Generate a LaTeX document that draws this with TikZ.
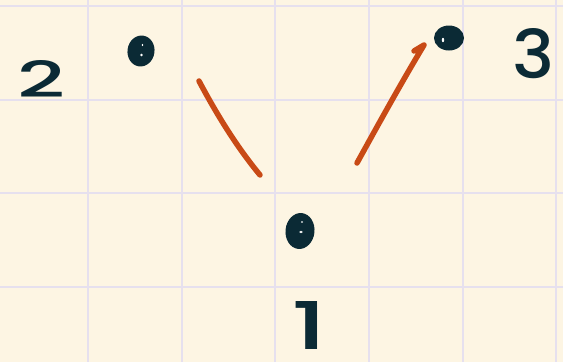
\documentclass[tikz,border=0pt]{standalone}
\usepackage{fontspec}
\usepackage{graphicx}
\newfontfamily\handfont{Poppins}[UprightFont=* Medium]
\usetikzlibrary{shapes.geometric}
\definecolor{paper}{HTML}{FDF5E3}
\definecolor{gridc}{HTML}{E6E0EE}
\definecolor{ink}{HTML}{0B2A35}
\definecolor{rust}{HTML}{C84A16}
\tikzset{
  gridline/.style={draw=gridc, line width=2pt},
  inkdot/.style={ellipse, fill=ink, draw=none, inner sep=0pt},
  shine/.style={fill=white, draw=none},
  lbl/.style={text=ink, inner sep=0pt, font=\handfont},
  stroke/.style={draw=rust, line width=5.5pt, line cap=round, line join=round}
}
\begin{document}
\begin{tikzpicture}[x=1pt,y=-1pt]
\fill[paper] (0,0) rectangle (563,362);
\useasboundingbox (0,0) rectangle (563,362);
% grid
\foreach \gx in {88.2,181.8,275.4,369,462.6,556.2}{
  \draw[gridline] (\gx,0) -- (\gx,362);
}
\foreach \gy in {6,99.6,193.2,286.8}{
  \draw[gridline] (0,\gy) -- (563,\gy);
}
% dots
\node[inkdot, minimum width=27pt, minimum height=31pt, rotate=-8] (p2) at (141,51) {};
\node[inkdot, minimum width=30pt, minimum height=25pt] (p3) at (449,38) {};
\node[inkdot, minimum width=29pt, minimum height=36pt, rotate=-6] (p1) at (300,231) {};
% highlights
\fill[shine] (141.5,55) circle (1.3pt);
\fill[shine] (142.5,45) ellipse (0.8pt and 1.2pt);
\fill[shine] (443,40) ellipse (1.2pt and 2.2pt);
\fill[shine] (301,232) ellipse (1.8pt and 1.2pt);
\fill[shine] (302,222) ellipse (1.2pt and 0.8pt);
% labels
\node[lbl] (l2) at (42,79) {\resizebox{48pt}{37pt}{2}};
\node[lbl] (l3) at (534,54) {\resizebox{42pt}{50pt}{3}};
\node[lbl] (l1) at (309,325) {\resizebox{36pt}{48pt}{1}};
% strokes
\coordinate (a1) at (199,81);
\coordinate (a2) at (260,175);
\coordinate (b1) at (357,163);
\coordinate (b2) at (424,45);
\coordinate (b3) at (414,51);
\draw[stroke] (a1) .. controls (216,113) and (236,146) .. (a2);
\draw[stroke] (b3) -- (b2) .. controls (400,85) and (378,125) .. (b1);
\end{tikzpicture}
\end{document}
